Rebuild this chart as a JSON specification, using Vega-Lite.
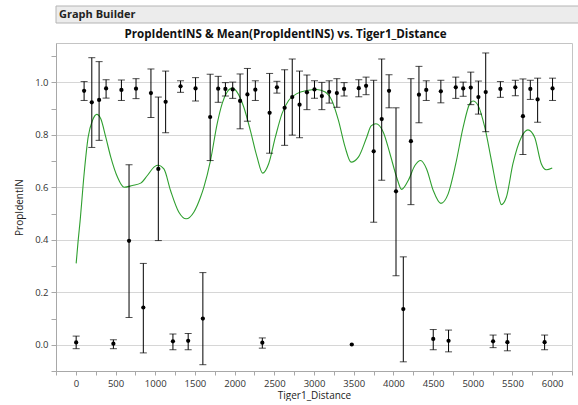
{
  "$schema": "https://vega.github.io/schema/vega-lite/v6.json",
  "padding": {"left": 14, "top": 5, "right": 2, "bottom": 0},
  "background": "white",
  "config": {
    "font": "Open Sans",
    "view": {"stroke": "#c4c4c4"},
    "concat": {"spacing": 4}
  },
  "datasets": {
    "means": [
      {"dist": 4, "mean": 0.009, "lo": -0.015, "hi": 0.033},
      {"dist": 104, "mean": 0.968, "lo": 0.931, "hi": 1.003},
      {"dist": 201, "mean": 0.924, "lo": 0.752, "hi": 1.094},
      {"dist": 293, "mean": 0.933, "lo": 0.779, "hi": 1.079},
      {"dist": 381, "mean": 0.977, "lo": 0.940, "hi": 1.010},
      {"dist": 473, "mean": 0.004, "lo": -0.015, "hi": 0.019},
      {"dist": 574, "mean": 0.971, "lo": 0.931, "hi": 1.009},
      {"dist": 670, "mean": 0.396, "lo": 0.104, "hi": 0.686},
      {"dist": 758, "mean": 0.976, "lo": 0.938, "hi": 1.014},
      {"dist": 850, "mean": 0.142, "lo": -0.031, "hi": 0.310},
      {"dist": 946, "mean": 0.959, "lo": 0.866, "hi": 1.051},
      {"dist": 1039, "mean": 0.670, "lo": 0.397, "hi": 0.944},
      {"dist": 1131, "mean": 0.926, "lo": 0.808, "hi": 1.043},
      {"dist": 1223, "mean": 0.013, "lo": -0.019, "hi": 0.041},
      {"dist": 1319, "mean": 0.985, "lo": 0.962, "hi": 1.006},
      {"dist": 1415, "mean": 0.015, "lo": -0.019, "hi": 0.043},
      {"dist": 1508, "mean": 0.977, "lo": 0.929, "hi": 1.018},
      {"dist": 1600, "mean": 0.100, "lo": -0.076, "hi": 0.275},
      {"dist": 1692, "mean": 0.868, "lo": 0.702, "hi": 1.031},
      {"dist": 1793, "mean": 0.976, "lo": 0.924, "hi": 1.023},
      {"dist": 1884, "mean": 0.975, "lo": 0.948, "hi": 0.999},
      {"dist": 1976, "mean": 0.973, "lo": 0.939, "hi": 1.001},
      {"dist": 2069, "mean": 0.929, "lo": 0.823, "hi": 1.032},
      {"dist": 2161, "mean": 0.954, "lo": 0.852, "hi": 1.053},
      {"dist": 2261, "mean": 0.972, "lo": 0.931, "hi": 1.006},
      {"dist": 2349, "mean": 0.008, "lo": -0.013, "hi": 0.026},
      {"dist": 2441, "mean": 0.884, "lo": 0.730, "hi": 1.034},
      {"dist": 2533, "mean": 0.981, "lo": 0.959, "hi": 1.004},
      {"dist": 2630, "mean": 0.903, "lo": 0.760, "hi": 1.048},
      {"dist": 2726, "mean": 0.944, "lo": 0.799, "hi": 1.089},
      {"dist": 2818, "mean": 0.915, "lo": 0.789, "hi": 1.043},
      {"dist": 2911, "mean": 0.962, "lo": 0.896, "hi": 1.028},
      {"dist": 3006, "mean": 0.973, "lo": 0.939, "hi": 1.006},
      {"dist": 3099, "mean": 0.948, "lo": 0.896, "hi": 1.000},
      {"dist": 3191, "mean": 0.964, "lo": 0.921, "hi": 1.006},
      {"dist": 3288, "mean": 0.959, "lo": 0.905, "hi": 1.014},
      {"dist": 3379, "mean": 0.975, "lo": 0.948, "hi": 0.999},
      {"dist": 3476, "mean": 0.001, "lo": null, "hi": null},
      {"dist": 3564, "mean": 0.978, "lo": 0.945, "hi": 1.010},
      {"dist": 3656, "mean": 0.987, "lo": 0.953, "hi": 1.020},
      {"dist": 3752, "mean": 0.737, "lo": 0.467, "hi": 1.008},
      {"dist": 3853, "mean": 0.860, "lo": 0.627, "hi": 1.089},
      {"dist": 3945, "mean": 0.968, "lo": 0.903, "hi": 1.029},
      {"dist": 4033, "mean": 0.585, "lo": 0.263, "hi": 0.903},
      {"dist": 4125, "mean": 0.136, "lo": -0.065, "hi": 0.335},
      {"dist": 4221, "mean": 0.776, "lo": 0.534, "hi": 1.014},
      {"dist": 4322, "mean": 0.953, "lo": 0.846, "hi": 1.061},
      {"dist": 4414, "mean": 0.971, "lo": 0.931, "hi": 1.006},
      {"dist": 4502, "mean": 0.022, "lo": -0.019, "hi": 0.058},
      {"dist": 4598, "mean": 0.966, "lo": 0.922, "hi": 1.008},
      {"dist": 4695, "mean": 0.015, "lo": -0.027, "hi": 0.056},
      {"dist": 4786, "mean": 0.981, "lo": 0.939, "hi": 1.020},
      {"dist": 4879, "mean": 0.977, "lo": 0.947, "hi": 1.001},
      {"dist": 4975, "mean": 0.980, "lo": 0.915, "hi": 1.039},
      {"dist": 5071, "mean": 0.944, "lo": 0.879, "hi": 1.005},
      {"dist": 5163, "mean": 0.963, "lo": 0.812, "hi": 1.112},
      {"dist": 5256, "mean": 0.013, "lo": -0.011, "hi": 0.037},
      {"dist": 5348, "mean": 0.975, "lo": 0.943, "hi": 1.003},
      {"dist": 5436, "mean": 0.010, "lo": -0.023, "hi": 0.041},
      {"dist": 5536, "mean": 0.981, "lo": 0.949, "hi": 1.008},
      {"dist": 5632, "mean": 0.871, "lo": 0.725, "hi": 1.013},
      {"dist": 5725, "mean": 0.975, "lo": 0.935, "hi": 1.008},
      {"dist": 5817, "mean": 0.935, "lo": 0.848, "hi": 1.016},
      {"dist": 5905, "mean": 0.010, "lo": -0.019, "hi": 0.037},
      {"dist": 6005, "mean": 0.977, "lo": 0.931, "hi": 1.016}
    ],
    "smooth": [
      {"dist": 4, "prop": 0.310},
      {"dist": 29, "prop": 0.397},
      {"dist": 54, "prop": 0.473},
      {"dist": 104, "prop": 0.651},
      {"dist": 155, "prop": 0.791},
      {"dist": 210, "prop": 0.855},
      {"dist": 264, "prop": 0.878},
      {"dist": 314, "prop": 0.861},
      {"dist": 377, "prop": 0.791},
      {"dist": 440, "prop": 0.715},
      {"dist": 524, "prop": 0.639},
      {"dist": 607, "prop": 0.600},
      {"dist": 712, "prop": 0.607},
      {"dist": 817, "prop": 0.616},
      {"dist": 901, "prop": 0.645},
      {"dist": 992, "prop": 0.679},
      {"dist": 1034, "prop": 0.684},
      {"dist": 1109, "prop": 0.670},
      {"dist": 1193, "prop": 0.588},
      {"dist": 1298, "prop": 0.505},
      {"dist": 1390, "prop": 0.480},
      {"dist": 1486, "prop": 0.505},
      {"dist": 1570, "prop": 0.562},
      {"dist": 1612, "prop": 0.600},
      {"dist": 1696, "prop": 0.702},
      {"dist": 1780, "prop": 0.842},
      {"dist": 1843, "prop": 0.919},
      {"dist": 1906, "prop": 0.963},
      {"dist": 1968, "prop": 0.978},
      {"dist": 2031, "prop": 0.963},
      {"dist": 2115, "prop": 0.906},
      {"dist": 2198, "prop": 0.817},
      {"dist": 2283, "prop": 0.715},
      {"dist": 2353, "prop": 0.654},
      {"dist": 2429, "prop": 0.690},
      {"dist": 2513, "prop": 0.791},
      {"dist": 2597, "prop": 0.881},
      {"dist": 2680, "prop": 0.931},
      {"dist": 2785, "prop": 0.957},
      {"dist": 2911, "prop": 0.969},
      {"dist": 3036, "prop": 0.973},
      {"dist": 3141, "prop": 0.963},
      {"dist": 3225, "prop": 0.931},
      {"dist": 3308, "prop": 0.855},
      {"dist": 3392, "prop": 0.753},
      {"dist": 3467, "prop": 0.696},
      {"dist": 3559, "prop": 0.715},
      {"dist": 3664, "prop": 0.791},
      {"dist": 3720, "prop": 0.834},
      {"dist": 3781, "prop": 0.842},
      {"dist": 3873, "prop": 0.810},
      {"dist": 3957, "prop": 0.728},
      {"dist": 4041, "prop": 0.639},
      {"dist": 4104, "prop": 0.592},
      {"dist": 4187, "prop": 0.626},
      {"dist": 4271, "prop": 0.683},
      {"dist": 4343, "prop": 0.702},
      {"dist": 4418, "prop": 0.670},
      {"dist": 4502, "prop": 0.588},
      {"dist": 4598, "prop": 0.539},
      {"dist": 4690, "prop": 0.575},
      {"dist": 4786, "prop": 0.690},
      {"dist": 4879, "prop": 0.829},
      {"dist": 4962, "prop": 0.919},
      {"dist": 5004, "prop": 0.929},
      {"dist": 5067, "prop": 0.912},
      {"dist": 5151, "prop": 0.829},
      {"dist": 5235, "prop": 0.702},
      {"dist": 5318, "prop": 0.575},
      {"dist": 5360, "prop": 0.534},
      {"dist": 5423, "prop": 0.562},
      {"dist": 5506, "prop": 0.690},
      {"dist": 5612, "prop": 0.791},
      {"dist": 5695, "prop": 0.819},
      {"dist": 5779, "prop": 0.791},
      {"dist": 5863, "prop": 0.690},
      {"dist": 5926, "prop": 0.667},
      {"dist": 6001, "prop": 0.674}
    ]
  },
  "vconcat": [
    {
      "width": 562,
      "height": 17,
      "data": {"values": [{"panel": "Graph Builder"}]},
      "mark": {"type": "rect", "fill": "#ececec", "stroke": "#b4b4b4", "strokeWidth": 1},
      "encoding": {},
      "title": {
        "text": "Graph Builder",
        "anchor": "start",
        "frame": "group",
        "offset": -14,
        "dx": 3,
        "fontSize": 11,
        "fontWeight": "bold",
        "color": "#222222"
      }
    },
    {
      "width": 516,
      "height": 328,
      "view": {"stroke": "#c4c4c4"},
      "title": {
        "text": "PropIdentINS & Mean(PropIdentINS) vs. Tiger1_Distance",
        "anchor": "middle",
        "frame": "bounds",
        "fontSize": 11.6,
        "fontWeight": "bold",
        "color": "#111111",
        "offset": 2,
        "dx": -8
      },
      "resolve": {"axis": {"x": "independent", "y": "independent"}},
      "layer": [
        {
          "data": {"name": "smooth"},
          "mark": {"type": "line", "color": "#2f9f2f", "strokeWidth": 1.1, "interpolate": "monotone", "clip": true},
          "encoding": {
            "x": {
              "field": "dist",
              "type": "quantitative",
              "scale": {"domain": [-250, 6250], "nice": false, "zero": false},
              "axis": {
                "title": "Tiger1_Distance",
                "values": [0, 500, 1000, 1500, 2000, 2500, 3000, 3500, 4000, 4500, 5000, 5500, 6000],
                "format": "d",
                "labelOverlap": false,
                "grid": false,
                "tickSize": 4,
                "tickColor": "#a8a8a8",
                "domainColor": "#a8a8a8",
                "labelFontSize": 9.5,
                "labelColor": "#333333",
                "labelPadding": 3,
                "titleFontSize": 10,
                "titleFontWeight": "normal",
                "titleColor": "#222222",
                "titlePadding": 3
              }
            },
            "y": {
              "field": "prop",
              "type": "quantitative",
              "scale": {"domain": [-0.1, 1.15], "nice": false, "zero": false},
              "axis": {
                "title": "PropIdentIN",
                "values": [0, 0.2, 0.4, 0.6, 0.8, 1.0],
                "format": ".1f",
                "labelOverlap": false,
                "grid": true,
                "gridColor": "#d6d6d6",
                "tickSize": 5,
                "tickColor": "#a8a8a8",
                "domainColor": "#a8a8a8",
                "labelFontSize": 9.5,
                "labelColor": "#333333",
                "labelPadding": 3,
                "titleFontSize": 10,
                "titleFontWeight": "normal",
                "titleColor": "#222222",
                "titlePadding": 10
              }
            }
          }
        },
        {
          "data": {"name": "means"},
          "mark": {"type": "errorbar", "ticks": true, "size": 7, "thickness": 1, "color": "#000000"},
          "encoding": {
            "x": {"field": "dist", "type": "quantitative", "axis": null, "scale": {"domain": [-250, 6250], "nice": false, "zero": false}},
            "y": {"field": "lo", "type": "quantitative", "axis": null, "scale": {"domain": [-0.1, 1.15], "nice": false, "zero": false}},
            "y2": {"field": "hi"}
          }
        },
        {
          "data": {"name": "means"},
          "mark": {"type": "point", "filled": true, "size": 18, "color": "#000000", "opacity": 1},
          "encoding": {
            "x": {
              "field": "dist",
              "type": "quantitative",
              "scale": {"domain": [-250, 6250], "nice": false, "zero": false},
              "axis": {
                "title": null,
                "orient": "bottom",
                "values": [-250, 250, 750, 1250, 1750, 2250, 2750, 3250, 3750, 4250, 4750, 5250, 5750, 6250],
                "labels": false,
                "domain": false,
                "grid": false,
                "tickSize": 4,
                "tickColor": "#a8a8a8"
              }
            },
            "y": {
              "field": "mean",
              "type": "quantitative",
              "scale": {"domain": [-0.1, 1.15], "nice": false, "zero": false},
              "axis": {
                "title": null,
                "orient": "left",
                "values": [-0.1, 0.1, 0.3, 0.5, 0.7, 0.9, 1.1],
                "labels": false,
                "domain": false,
                "grid": false,
                "tickSize": 5,
                "tickColor": "#a8a8a8"
              }
            }
          }
        }
      ]
    }
  ]
}
